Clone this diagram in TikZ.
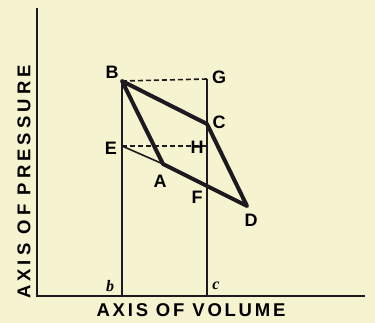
\documentclass[tikz,border=0pt]{standalone}
\usepackage{fontspec}
\setmainfont{Liberation Sans}
\newfontfamily\serifit{Liberation Serif}
\begin{document}
\begin{tikzpicture}[x=1pt,y=-1pt,
  lbl/.style={font=\fontsize{18}{18}\selectfont\bfseries, inner sep=0pt},
  axislbl/.style={font=\fontsize{18.5}{18.5}\selectfont\bfseries\addfontfeature{LetterSpace=15}, inner sep=0pt},
  ylbl/.style={font=\fontsize{18.5}{18.5}\selectfont\bfseries\addfontfeature{LetterSpace=22}, inner sep=0pt},
  small/.style={font=\fontsize{16}{16}\selectfont\serifit\bfseries\itshape, inner sep=0pt},
  axis/.style={line width=2.6pt, color=ink},
  thinline/.style={line width=1.6pt, color=ink},
  heavy/.style={line width=4pt, color=ink, line join=round, line cap=round},
  dashline/.style={line width=1.6pt, color=ink, dash pattern=on 5pt off 3pt},
]
\definecolor{ink}{RGB}{28,26,30}
\definecolor{paper}{RGB}{246,243,208}
\fill[paper] (0,0) rectangle (375,323);
\useasboundingbox (0,0) rectangle (375,323);
% points
\coordinate (O) at (37,296);
\coordinate (Ytop) at (37,8);
\coordinate (Xend) at (365,296);
\coordinate (B) at (122,81);
\coordinate (G) at (207,79);
\coordinate (C) at (207,124);
\coordinate (E) at (122,146);
\coordinate (H) at (207,146);
\coordinate (A) at (163,164);
\coordinate (F) at (207,184);
\coordinate (D) at (247,206);
\coordinate (b) at (122,296);
\coordinate (c) at (207,296);
% axes
\draw[axis] (Ytop) -- (O) -- (Xend);
% verticals
\draw[thinline] (B) -- (b);
\draw[thinline] (G) -- (c);
% dashed
\draw[dashline] (B) -- (G);
\draw[dashline] (E) -- (H);
% thin E-A
\draw[thinline] (E) -- (A);
% heavy cycle
\draw[heavy] (A) -- (B) -- (C) -- (D) -- cycle;
% labels
\node[lbl] (lB) at (112,72) {B};
\node[lbl] (lG) at (219,77) {G};
\node[lbl] (lC) at (219,122) {C};
\node[lbl] (lE) at (111,148) {E};
\node[lbl] (lH) at (197,147) {H};
\node[lbl] (lA) at (160,181) {A};
\node[lbl] (lF) at (197,197) {F};
\node[lbl] (lD) at (251,220) {D};
\node[small] (lb) at (110,286) {b};
\node[small] (lc) at (216,286) {c};
\node[axislbl] (xl) at (191,310) {AXIS OF VOLUME};
\node[ylbl, rotate=90] (yl) at (24,182) {AXIS OF PRESSURE};
\end{tikzpicture}
\end{document}
